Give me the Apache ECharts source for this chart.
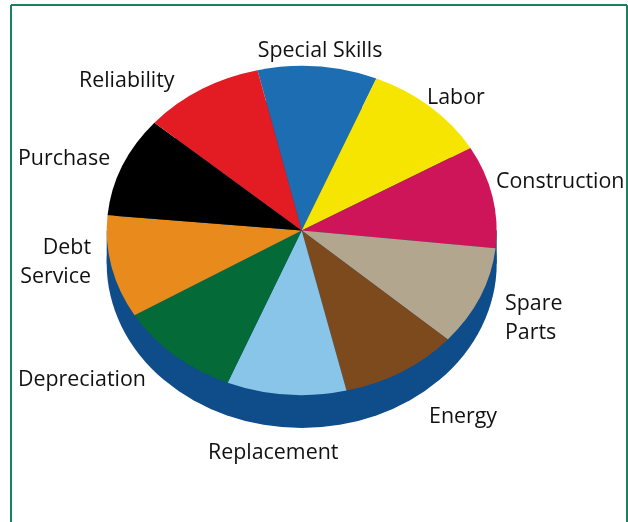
<!DOCTYPE html>
<html>
<head>
<meta charset="utf-8">
<style>html,body{margin:0;padding:0;background:#fff}#chart{width:628px;height:522px}</style>
<script src="https://cdn.jsdelivr.net/npm/echarts@6/dist/echarts.min.js"></script>
</head>
<body>
<div id="chart"></div>
<script>
// Life-cycle cost components, clockwise from the top-left of the blue wedge
const categories = ['Special Skills', 'Labor', 'Construction', 'Spare Parts', 'Energy',
  'Replacement', 'Depreciation', 'Debt Service', 'Purchase', 'Reliability'];
const shares = [9.9, 10.4, 10.1, 9.8, 9.8, 9.9, 10.2, 10.1, 9.9, 10.0];
const sliceColors = ['#1d6db2', '#f5e500', '#cf1559', '#b3a68f', '#7d4a1e',
  '#89c5e8', '#046a38', '#e88b1c', '#000000', '#e31b23'];

// Disc layout in pixels
const disc = { cx: 301.7, cy: 230.5, rx: 195, ry: 164.5, depth: 33, startDeg: -13.1 };
const sideColor = '#0e4c8a';

// Label anchors: [x, y, align]; two-line labels are split on the space
const labelFont = '"Open Sans", sans-serif';
const labelSize = 21.4;
const labelPlaces = {
  'Special Skills': [320, 50.5, 'center'],
  'Labor': [427, 97.5, 'left'],
  'Construction': [496, 181.5, 'left'],
  'Spare Parts': [505, 318.5, 'left'],
  'Energy': [429, 416.5, 'left'],
  'Replacement': [208, 452.5, 'left'],
  'Depreciation': [18, 379.5, 'left'],
  'Debt Service': [91, 262.5, 'right'],
  'Purchase': [18, 158.5, 'left'],
  'Reliability': [79, 80.5, 'left']
};

const total = shares.reduce((a, b) => a + b, 0);
const toRad = d => d * Math.PI / 180;

// The disc is a circle of radius rx squashed vertically around its centre
function discSector(startDeg, endDeg, fill, dy) {
  return {
    type: 'sector',
    x: disc.cx, y: disc.cy + dy,
    scaleY: disc.ry / disc.rx,
    shape: {
      cx: 0, cy: 0, r0: 0, r: disc.rx,
      startAngle: toRad(startDeg - 90), endAngle: toRad(endDeg - 90), clockwise: true
    },
    style: { fill: fill }
  };
}

function renderSlice(params, api) {
  const i = params.dataIndex;
  let before = 0;
  for (let k = 0; k < i; k++) before += shares[k];
  const a0 = disc.startDeg + before / total * 360;
  const a1 = a0 + api.value(1) / total * 360;
  return discSector(a0, a1, sliceColors[i], 0);
}

function renderBase() {
  return {
    type: 'group',
    children: [
      discSector(0, 360, sideColor, disc.depth),
      {
        type: 'rect',
        shape: { x: disc.cx - disc.rx, y: disc.cy, width: disc.rx * 2, height: disc.depth },
        style: { fill: sideColor }
      }
    ]
  };
}

const labelElements = categories.map(name => {
  const [x, y, align] = labelPlaces[name];
  const twoLines = name === 'Spare Parts' || name === 'Debt Service';
  return {
    type: 'text', x: x, y: y, z: 5,
    style: {
      text: twoLines ? name.replace(' ', '\n') : name,
      fill: '#111111', font: labelSize + 'px ' + labelFont,
      align: align, verticalAlign: 'middle', lineHeight: 29
    }
  };
});

const frameColor = '#17835f';
const frame = [
  { type: 'line', shape: { x1: 11, y1: 5, x2: 627, y2: 5 }, style: { stroke: frameColor, lineWidth: 2 } },
  { type: 'line', shape: { x1: 11, y1: 5, x2: 11, y2: 522 }, style: { stroke: frameColor, lineWidth: 2 } },
  { type: 'line', shape: { x1: 627, y1: 5, x2: 627, y2: 522 }, style: { stroke: frameColor, lineWidth: 2 } }
];

echarts.init(document.getElementById('chart'), null, { renderer: 'canvas' }).setOption({
  animation: false,
  backgroundColor: '#ffffff',
  graphic: { elements: frame.concat(labelElements) },
  series: [
    { type: 'custom', coordinateSystem: 'none', renderItem: renderBase, data: [[0]], silent: true, z: 1 },
    {
      type: 'custom', coordinateSystem: 'none', renderItem: renderSlice, silent: true, z: 2,
      data: categories.map((name, i) => [name, shares[i]])
    }
  ]
});
</script>
</body>
</html>
